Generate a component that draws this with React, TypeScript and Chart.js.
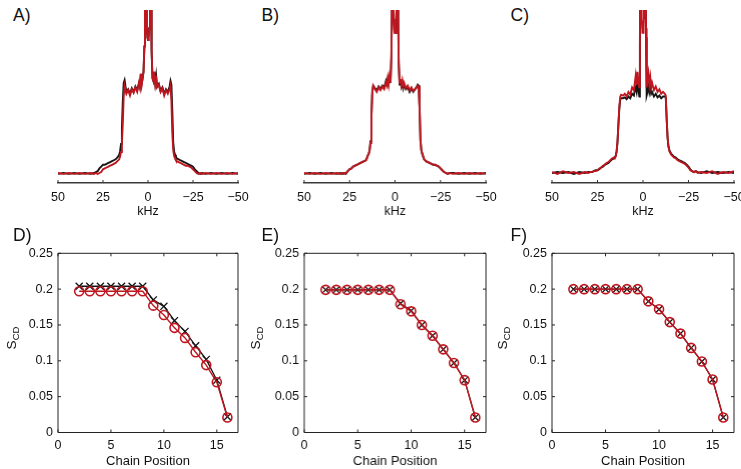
import React, { useEffect, useRef } from 'react';
import { Chart, registerables } from 'chart.js';

Chart.register(...registerables);

// ---------- data ----------
const kHz = [
  50, 47, 44, 41, 38, 35, 32,
  30, 29, 28, 27, 26, 25, 24, 23, 22, 21, 20, 19, 18, 17, 16,
  15.5, 15, 14.5, 14, 13.5, 13, 12.5, 12,
  11, 10, 9, 8, 7, 6, 5,
  4.5, 4, 3.5, 3, 2.5, 2,
  1.7, 1.4, 1.1, 0.7, 0.3,
  0,
  -0.3, -0.7, -1.1, -1.4, -1.7,
  -2, -2.5, -3, -3.5, -4, -4.5,
  -5, -6, -7, -8, -9, -10, -11,
  -12, -12.5, -13, -13.5, -14, -14.5, -15, -15.5,
  -16, -17, -18, -19, -20, -21, -22, -23, -24, -25, -26, -27, -28, -29, -30,
  -32, -35, -38, -41, -44, -47, -50,
];

const specA_black = [
  0.00, 0.01, 0.00, 0.01, 0.00, 0.01, 0.00,
  0.01, 0.02, 0.03, 0.06, 0.08, 0.10, 0.10, 0.11, 0.12, 0.13, 0.14, 0.15, 0.16, 0.18, 0.21,
  0.25, 0.33, 0.50, 0.80, 1.00, 1.03, 0.96, 0.90,
  0.93, 0.88, 0.94, 0.90, 0.96, 0.92, 1.00,
  0.96, 1.10, 0.99, 1.05, 1.12, 1.40,
  1.90, 2.40, 2.00, 1.60, 1.50,
  1.47,
  1.50, 1.60, 2.00, 2.40, 1.90,
  1.35, 1.05, 1.02, 1.12, 1.00, 1.08,
  0.96, 0.99, 0.91, 0.95, 0.88, 0.93, 0.90,
  0.96, 1.02, 0.98, 0.70, 0.35, 0.25, 0.21, 0.19,
  0.17, 0.16, 0.15, 0.14, 0.13, 0.12, 0.11, 0.10, 0.09, 0.08, 0.05, 0.03, 0.01, 0.00, 0.01,
  0.00, 0.01, 0.00, 0.01, 0.00, 0.01, 0.00,
];
const specA_red = [
  0.01, 0.00, 0.01, 0.00, 0.01, 0.00, 0.01,
  0.00, 0.01, 0.00, 0.01, 0.02, 0.05, 0.06, 0.07, 0.08, 0.09, 0.10, 0.11, 0.12, 0.14, 0.16,
  0.19, 0.24, 0.34, 0.55, 0.85, 0.97, 0.93, 0.88,
  0.92, 0.86, 0.93, 0.89, 0.95, 0.90, 1.00,
  0.95, 1.10, 0.98, 1.05, 1.12, 1.40,
  1.90, 2.40, 2.00, 1.60, 1.50,
  1.47,
  1.50, 1.60, 2.00, 2.40, 1.90,
  1.35, 1.05, 1.02, 1.12, 1.00, 1.08,
  0.95, 0.98, 0.90, 0.94, 0.86, 0.92, 0.88,
  0.93, 0.97, 0.80, 0.45, 0.26, 0.20, 0.17, 0.15,
  0.14, 0.13, 0.12, 0.11, 0.10, 0.09, 0.09, 0.08, 0.07, 0.05, 0.03, 0.01, 0.00, 0.01, 0.00,
  0.01, 0.00, 0.01, 0.00, 0.01, 0.00, 0.01,
];

const specB_black = [
  0.00, 0.01, 0.00, 0.01, 0.00, 0.01, 0.00,
  0.01, 0.00, 0.01, 0.00, 0.03, 0.05, 0.06, 0.08, 0.09, 0.10, 0.11, 0.12, 0.13, 0.14, 0.15,
  0.17, 0.20, 0.22, 0.26, 0.36, 0.64, 0.90, 0.97,
  0.94, 0.92, 0.96, 0.93, 0.97, 0.95, 1.02,
  0.98, 1.04, 0.99, 1.06, 1.00, 1.28,
  1.85, 2.40, 2.10, 1.70, 1.55,
  1.60,
  1.55, 1.70, 2.10, 2.40, 1.85,
  1.22, 0.98, 1.02, 0.96, 1.00, 0.94,
  0.98, 0.93, 0.95, 0.90, 0.94, 0.90, 0.93,
  0.96, 0.98, 0.97, 0.74, 0.37, 0.26, 0.22, 0.19,
  0.16, 0.14, 0.13, 0.12, 0.11, 0.10, 0.10, 0.09, 0.08, 0.06, 0.04, 0.02, 0.01, 0.00, 0.01,
  0.01, 0.00, 0.01, 0.00, 0.01, 0.00, 0.01,
];
const specB_red = [
  0.01, 0.00, 0.01, 0.00, 0.01, 0.00, 0.01,
  0.00, 0.01, 0.00, 0.01, 0.03, 0.05, 0.06, 0.08, 0.09, 0.10, 0.11, 0.12, 0.13, 0.14, 0.15,
  0.17, 0.20, 0.22, 0.25, 0.34, 0.62, 0.90, 0.97,
  0.93, 0.90, 0.95, 0.92, 0.96, 0.93, 1.00,
  0.97, 1.05, 0.98, 1.07, 1.00, 1.30,
  1.85, 2.40, 2.10, 1.70, 1.55,
  1.55,
  1.55, 1.70, 2.10, 2.40, 1.85,
  1.25, 1.00, 1.04, 0.98, 1.03, 0.96,
  1.00, 0.94, 0.97, 0.92, 0.95, 0.91, 0.93,
  0.95, 0.97, 0.96, 0.72, 0.36, 0.26, 0.22, 0.19,
  0.16, 0.14, 0.13, 0.12, 0.11, 0.10, 0.10, 0.09, 0.08, 0.06, 0.04, 0.02, 0.01, 0.00, 0.01,
  0.00, 0.01, 0.00, 0.01, 0.00, 0.01, 0.00,
];

const specC_black = [
  0.01, 0.02, 0.01, 0.02, 0.00, 0.02, 0.01,
  0.02, 0.02, 0.02, 0.03, 0.04, 0.04, 0.05, 0.07, 0.08, 0.10, 0.11, 0.12, 0.14, 0.16, 0.17,
  0.18, 0.20, 0.25, 0.35, 0.54, 0.72, 0.82, 0.83,
  0.83, 0.84, 0.82, 0.85, 0.83, 0.88, 0.86,
  0.92, 0.95, 0.90, 1.00, 0.92, 0.85,
  1.40, 2.30, 2.20, 1.80, 1.90,
  2.40,
  2.20, 1.70, 2.20, 2.30, 1.50,
  0.86, 0.90, 0.98, 0.90, 0.95, 0.88,
  0.90, 0.85, 0.88, 0.84, 0.86, 0.83, 0.85,
  0.85, 0.84, 0.60, 0.40, 0.30, 0.26, 0.24, 0.22,
  0.21, 0.19, 0.18, 0.16, 0.15, 0.14, 0.13, 0.12, 0.10, 0.08, 0.05, 0.03, 0.02, 0.03, 0.02,
  0.01, 0.03, 0.01, 0.02, 0.01, 0.02, 0.01,
];
const specC_red = [
  0.02, 0.00, 0.03, 0.01, 0.02, 0.00, 0.02,
  0.01, 0.02, 0.02, 0.03, 0.03, 0.04, 0.06, 0.07, 0.09, 0.10, 0.12, 0.13, 0.15, 0.17, 0.18,
  0.17, 0.19, 0.24, 0.36, 0.55, 0.74, 0.85, 0.87,
  0.86, 0.88, 0.85, 0.90, 0.87, 0.95, 0.92,
  1.00, 1.08, 0.98, 1.12, 1.00, 0.95,
  1.50, 2.40, 2.20, 1.70, 1.55,
  1.55,
  1.60, 1.80, 2.30, 2.40, 1.60,
  0.95, 1.02, 1.10, 0.98, 1.06, 0.95,
  1.00, 0.92, 0.96, 0.90, 0.93, 0.88, 0.90,
  0.88, 0.86, 0.62, 0.40, 0.30, 0.25, 0.23, 0.21,
  0.20, 0.18, 0.17, 0.15, 0.14, 0.13, 0.12, 0.11, 0.09, 0.07, 0.04, 0.03, 0.02, 0.03, 0.01,
  0.02, 0.01, 0.03, 0.00, 0.02, 0.01, 0.03,
];

const kHzTicks = [50, 25, 0, -25, -50];

const chainPos = [2, 3, 4, 5, 6, 7, 8, 9, 10, 11, 12, 13, 14, 15, 16];
const scdD_black = [0.204, 0.204, 0.204, 0.204, 0.204, 0.204, 0.204, 0.185, 0.176, 0.156, 0.141, 0.121, 0.102, 0.073, 0.022];
const scdD_red = [0.197, 0.197, 0.197, 0.197, 0.197, 0.197, 0.197, 0.177, 0.164, 0.146, 0.132, 0.112, 0.094, 0.070, 0.021];
const scdE_black = [0.199, 0.199, 0.199, 0.199, 0.199, 0.199, 0.199, 0.180, 0.170, 0.150, 0.135, 0.116, 0.097, 0.073, 0.021];
const scdE_red = [0.199, 0.199, 0.199, 0.199, 0.199, 0.199, 0.199, 0.179, 0.169, 0.150, 0.135, 0.116, 0.097, 0.073, 0.021];
const scdF_black = [0.200, 0.200, 0.200, 0.200, 0.200, 0.200, 0.200, 0.183, 0.172, 0.154, 0.138, 0.118, 0.099, 0.074, 0.021];
const scdF_red = [0.200, 0.200, 0.200, 0.200, 0.200, 0.200, 0.200, 0.183, 0.172, 0.154, 0.138, 0.118, 0.099, 0.074, 0.021];

const chainTicks = [0, 5, 10, 15];
const scdTicks = [0, 0.05, 0.1, 0.15, 0.2, 0.25];

// ---------- styling ----------
const FONT = "'Liberation Sans', Arial, Helvetica, sans-serif";
const BLACK = '#151515';
const RED = '#c0161f';
const TEXT = '#111111';

const frameTicks = {
  id: 'frameTicks',
  afterDraw(chart: any, _args: any, opts: any) {
    const { ctx, chartArea: a } = chart;
    const xs = chart.scales.x;
    const ys = chart.scales.y;
    const len = opts.len || 3;
    ctx.save();
    ctx.strokeStyle = opts.color || '#000';
    ctx.lineWidth = opts.lineWidth || 1;
    ctx.beginPath();
    xs.ticks.forEach((t: any) => {
      const px = xs.getPixelForValue(t.value);
      ctx.moveTo(px, a.bottom);
      ctx.lineTo(px, a.bottom - len);
      if (opts.box) {
        ctx.moveTo(px, a.top);
        ctx.lineTo(px, a.top + len);
      }
    });
    if (opts.box) {
      ys.ticks.forEach((t: any) => {
        const py = ys.getPixelForValue(t.value);
        ctx.moveTo(a.left, py);
        ctx.lineTo(a.left + len, py);
        ctx.moveTo(a.right, py);
        ctx.lineTo(a.right - len, py);
      });
      ctx.rect(a.left, a.top, a.right - a.left, a.bottom - a.top);
    }
    ctx.stroke();
    ctx.restore();
  },
};

type Panel = { L: number; R: number };
const cols: Panel[] = [
  { L: 57.5, R: 238 },
  { L: 304.3, R: 486 },
  { L: 551.5, R: 733.5 },
];

const TOP_CANVAS_H = 225;
const TOP_AREA_TOP = 10;
const TOP_AREA_BOTTOM = 183;
const BOT_CANVAS_TOP = 240;
const BOT_AREA_TOP = 253.3;
const BOT_AREA_BOTTOM = 432.5;
const PAGE_H = 469;
const Y_AXIS_W = 50;
const PAD_L = 5;
const PAD_R = 10;

function spectrumConfig(black: number[], red: number[]) {
  return {
    type: 'line',
    data: {
      datasets: [
        {
          data: kHz.map((x, i) => ({ x, y: red[i] })),
          borderColor: RED,
          borderWidth: 1.9,
          pointRadius: 0,
          tension: 0,
          order: 0,
        },
        {
          data: kHz.map((x, i) => ({ x, y: black[i] })),
          borderColor: BLACK,
          borderWidth: 1.9,
          pointRadius: 0,
          tension: 0,
          order: 1,
        },
      ],
    },
    options: {
      animation: false,
      responsive: false,
      events: [],
      layout: { padding: { left: 20, right: 20, top: TOP_AREA_TOP, bottom: 0 } },
      plugins: {
        legend: { display: false },
        tooltip: { enabled: false },
        frameTicks: { len: 3, color: '#333', lineWidth: 1, box: false },
      },
      scales: {
        x: {
          type: 'linear',
          reverse: true,
          min: -50,
          max: 50,
          afterBuildTicks: (s: any) => {
            s.ticks = kHzTicks.map((v) => ({ value: v }));
          },
          afterFit: (s: any) => {
            s.height = TOP_CANVAS_H - TOP_AREA_BOTTOM;
          },
          grid: { display: false, drawTicks: false },
          border: { display: true, color: '#3a3a3a', width: 1.6 },
          ticks: {
            padding: 7,
            color: TEXT,
            font: { family: FONT, size: 12.5 },
            callback: (v: number) => (v < 0 ? '\u2212' + Math.abs(v) : String(v)),
          },
          title: {
            display: true,
            text: 'kHz',
            color: TEXT,
            font: { family: FONT, size: 12.5 },
            padding: { top: 0, bottom: 6 },
          },
        },
        y: { display: false, min: -0.1, max: 1.8 },
      },
    },
    plugins: [frameTicks],
  };
}

function scdConfig(black: number[], red: number[]) {
  return {
    type: 'line',
    data: {
      datasets: [
        {
          data: chainPos.map((x, i) => ({ x, y: red[i] })),
          borderColor: RED,
          borderWidth: 1.4,
          pointStyle: 'circle',
          pointRadius: 4.5,
          pointBorderWidth: 1.6,
          pointBorderColor: RED,
          pointBackgroundColor: 'transparent',
          tension: 0,
          order: 0,
        },
        {
          data: chainPos.map((x, i) => ({ x, y: black[i] })),
          borderColor: BLACK,
          borderWidth: 1.3,
          pointStyle: 'crossRot',
          pointRadius: 5,
          pointBorderWidth: 1.3,
          pointBorderColor: BLACK,
          pointBackgroundColor: 'transparent',
          tension: 0,
          order: 1,
        },
      ],
    },
    options: {
      animation: false,
      responsive: false,
      events: [],
      layout: { padding: { left: PAD_L, right: PAD_R, top: BOT_AREA_TOP - BOT_CANVAS_TOP, bottom: 0 } },
      plugins: {
        legend: { display: false },
        tooltip: { enabled: false },
        frameTicks: { len: 3, color: '#222', lineWidth: 1, box: true },
      },
      scales: {
        x: {
          type: 'linear',
          min: 0,
          max: 17,
          afterBuildTicks: (s: any) => {
            s.ticks = chainTicks.map((v) => ({ value: v }));
          },
          afterFit: (s: any) => {
            s.height = PAGE_H - BOT_AREA_BOTTOM;
          },
          grid: { display: false, drawTicks: false },
          border: { display: false },
          ticks: { padding: 6, color: TEXT, font: { family: FONT, size: 12.5 } },
          title: {
            display: true,
            text: 'Chain Position',
            color: TEXT,
            font: { family: FONT, size: 13 },
            padding: { top: 0, bottom: 0 },
          },
        },
        y: {
          type: 'linear',
          min: 0,
          max: 0.25,
          afterBuildTicks: (s: any) => {
            s.ticks = scdTicks.map((v) => ({ value: v }));
          },
          afterFit: (s: any) => {
            s.width = Y_AXIS_W;
          },
          grid: { display: false, drawTicks: false },
          border: { display: false },
          ticks: {
            padding: 5,
            color: TEXT,
            font: { family: FONT, size: 12.5 },
            callback: (v: number) => String(Number(v.toFixed(2))),
          },
        },
      },
    },
    plugins: [frameTicks],
  };
}

function ChartBox(props: { config: any; left: number; top: number; width: number; height: number }) {
  const ref = useRef<HTMLCanvasElement | null>(null);
  useEffect(() => {
    if (!ref.current) return;
    const chart = new Chart(ref.current, props.config);
    return () => chart.destroy();
  }, []);
  return (
    <canvas
      ref={ref}
      width={props.width}
      height={props.height}
      style={{ position: 'absolute', left: props.left, top: props.top, width: props.width, height: props.height }}
    />
  );
}

const letterStyle = (left: number, top: number): React.CSSProperties => ({
  position: 'absolute',
  left,
  top,
  fontFamily: FONT,
  fontSize: 17.5,
  lineHeight: '18px',
  color: TEXT,
  transform: 'translateY(-50%)',
  whiteSpace: 'nowrap',
});

function ScdLabel(props: { cx: number; cy: number }) {
  return (
    <div
      style={{
        position: 'absolute',
        left: props.cx,
        top: props.cy,
        transform: 'translate(-50%, -50%) rotate(-90deg)',
        fontFamily: FONT,
        fontSize: 13.5,
        lineHeight: '14px',
        color: TEXT,
        whiteSpace: 'nowrap',
      }}
    >
      S<span style={{ fontSize: 9.5, position: 'relative', top: 3 }}>CD</span>
    </div>
  );
}

export default function App() {
  const spectra = [
    [specA_black, specA_red],
    [specB_black, specB_red],
    [specC_black, specC_red],
  ];
  const scd = [
    [scdD_black, scdD_red],
    [scdE_black, scdE_red],
    [scdF_black, scdF_red],
  ];
  const topLetters = ['A)', 'B)', 'C)'];
  const botLetters = ['D)', 'E)', 'F)'];
  const letterX = [13, 261.5, 510.5];
  const scdLabelX = [12, 256, 503];
  return (
    <div style={{ position: 'absolute', left: 0, top: 0, width: 741, height: 469, background: '#fff', overflow: 'hidden' }}>
      {cols.map((c, i) => (
        <ChartBox
          key={'t' + i}
          config={spectrumConfig(spectra[i][0], spectra[i][1])}
          left={c.L - 20}
          top={0}
          width={c.R - c.L + 40}
          height={TOP_CANVAS_H}
        />
      ))}
      {cols.map((c, i) => (
        <ChartBox
          key={'b' + i}
          config={scdConfig(scd[i][0], scd[i][1])}
          left={c.L - Y_AXIS_W - PAD_L}
          top={BOT_CANVAS_TOP}
          width={c.R - c.L + Y_AXIS_W + PAD_L + PAD_R}
          height={PAGE_H - BOT_CANVAS_TOP}
        />
      ))}
      {topLetters.map((t, i) => (
        <div key={t} style={letterStyle(letterX[i], 15)}>{t}</div>
      ))}
      {botLetters.map((t, i) => (
        <div key={t} style={letterStyle(letterX[i], 234.5)}>{t}</div>
      ))}
      {scdLabelX.map((x, i) => (
        <ScdLabel key={'s' + i} cx={x} cy={338} />
      ))}
    </div>
  );
}
